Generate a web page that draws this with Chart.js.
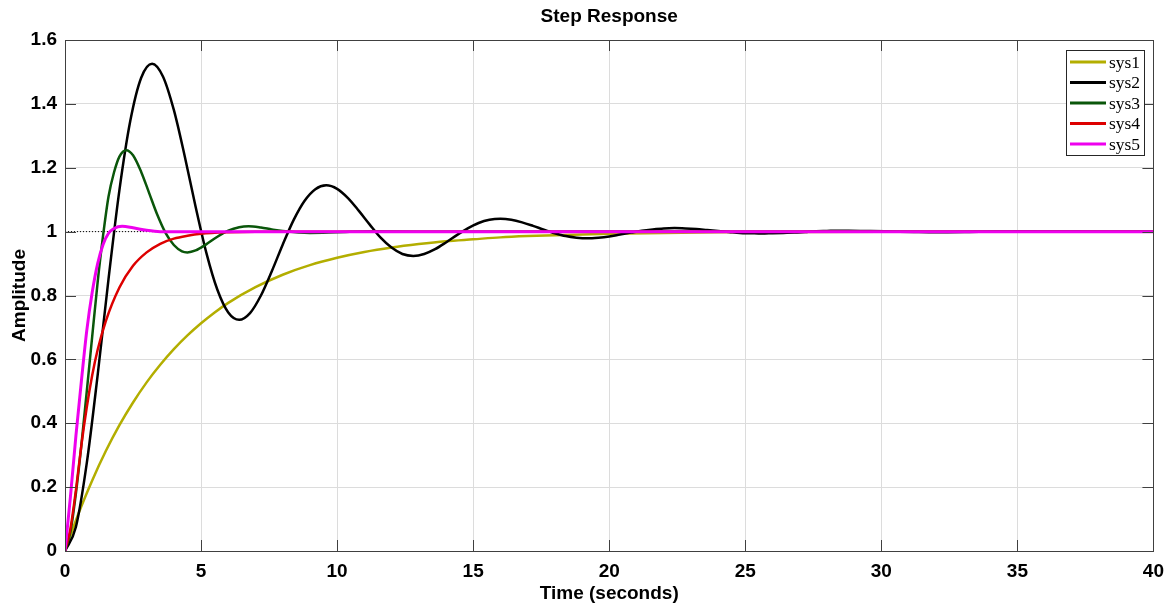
<!DOCTYPE html>
<html>
<head>
<meta charset="utf-8">
<title>Step Response</title>
<script src="https://cdn.jsdelivr.net/npm/chart.js@4.4.0/dist/chart.umd.min.js"></script>
<style>
  html, body { margin: 0; padding: 0; background: #fff; }
</style>
</head>
<body>
<canvas id="chart" width="1173" height="607"></canvas>
<script>
// step responses (time in seconds, amplitude)
var names  = ['sys1', 'sys2', 'sys3', 'sys4', 'sys5'];
var colors = ['#b3ae00', '#000000', '#0a560a', '#dd0000', '#ee00ee'];

var t1   = [0, 0.5, 1, 1.5, 2, 2.5, 3, 3.5, 4, 4.5, 5, 5.5, 6, 7, 8, 9, 10, 11, 12, 13, 14, 15, 16, 17, 18, 20, 22, 24, 27, 30, 40];
var sys1 = [0, 0.118, 0.221, 0.313, 0.394, 0.465, 0.528, 0.583, 0.632, 0.675, 0.713, 0.747, 0.777, 0.826, 0.865, 0.895, 0.918, 0.936, 0.95, 0.961, 0.97, 0.976, 0.982, 0.986, 0.989, 0.993, 0.996, 0.998, 0.999, 0.9995, 1];

var t2   = [0, 0.4, 0.8, 1.2, 1.6, 2.0, 2.4, 2.8, 3.2, 3.6, 4.0, 4.4, 4.8, 5.2, 5.6, 6.0, 6.4, 6.8, 7.2, 7.6, 8.0, 8.4, 8.8, 9.2, 9.6, 10.0, 10.4, 10.8, 11.2, 11.6, 12.0, 12.4, 12.8, 13.2, 13.6, 14.0, 14.4, 14.8, 15.2, 15.6, 16.0, 16.4, 16.8, 17.2, 17.6, 18.0, 18.4, 18.8, 19.2, 19.6, 20.0, 20.4, 20.8, 21.2, 21.6, 22.0, 22.4, 22.8, 23.2, 23.6, 24.0, 24.4, 24.8, 25.2, 25.6, 26.0, 26.4, 26.8, 27.2, 27.6, 28.0, 28.4, 28.8, 29.6, 30.4, 31.2, 32.0, 33.6, 35.2, 36.8, 38.4, 40];
var sys2 = [0, 0.075, 0.275, 0.551, 0.852, 1.13, 1.347, 1.482, 1.526, 1.486, 1.381, 1.236, 1.078, 0.932, 0.818, 0.747, 0.724, 0.745, 0.8, 0.876, 0.959, 1.036, 1.096, 1.133, 1.145, 1.134, 1.105, 1.065, 1.022, 0.981, 0.95, 0.93, 0.924, 0.93, 0.945, 0.966, 0.989, 1.01, 1.027, 1.037, 1.04, 1.037, 1.029, 1.018, 1.006, 0.995, 0.986, 0.981, 0.979, 0.981, 0.985, 0.991, 0.997, 1.003, 1.007, 1.01, 1.011, 1.01, 1.008, 1.005, 1.002, 0.999, 0.996, 0.995, 0.994, 0.995, 0.996, 0.997, 0.999, 1.001, 1.002, 1.003, 1.003, 1.002, 1.0005, 0.999, 0.998, 0.9995, 1.001, 1.0003, 0.9996, 1];

var t3   = [0, 0.2, 0.4, 0.6, 0.8, 1.0, 1.2, 1.4, 1.6, 1.8, 2.0, 2.25, 2.5, 2.8, 3.1, 3.4, 3.7, 4.0, 4.3, 4.5, 4.8, 5.2, 5.6, 6.0, 6.4, 6.75, 7.2, 7.6, 8.0, 9.0, 10.0, 11.3, 13, 40];
var sys3 = [0, 0.06, 0.18, 0.33, 0.5, 0.672, 0.842, 0.988, 1.11, 1.185, 1.235, 1.255, 1.239, 1.187, 1.119, 1.051, 0.995, 0.958, 0.938, 0.935, 0.941, 0.961, 0.984, 1.003, 1.014, 1.017, 1.013, 1.007, 1.002, 0.996, 0.998, 1.001, 1.0, 1.0];

var t4   = [0, 0.2, 0.4, 0.6, 0.8, 1.0, 1.2, 1.5, 2.0, 2.5, 3.0, 3.5, 4.0, 4.5, 5.0, 6.0, 7.0, 40];
var sys4 = [0, 0.07, 0.19, 0.33, 0.45, 0.55, 0.63, 0.72, 0.825, 0.893, 0.935, 0.962, 0.978, 0.987, 0.993, 0.998, 1.0, 1.0];

var t5   = [0, 0.2, 0.4, 0.6, 0.8, 1.0, 1.2, 1.4, 1.6, 1.8, 2.1, 2.5, 3.0, 3.5, 40];
var sys5 = [0, 0.17, 0.36, 0.53, 0.69, 0.81, 0.9, 0.96, 0.995, 1.01, 1.017, 1.012, 1.004, 1.0, 1.0];

// steady state line
var tSS = [0, 40];
var ss  = [1, 1];

var xTicks = [0, 5, 10, 15, 20, 25, 30, 35, 40];
var yTicks = [0, 0.2, 0.4, 0.6, 0.8, 1, 1.2, 1.4, 1.6];

function pts(t, v){
	return t.map(function(x, i){ return {x: x, y: v[i]}; });
}

var times  = [t1, t2, t3, t4, t5];
var values = [sys1, sys2, sys3, sys4, sys5];

var datasets = names.map(function(n, i){
	return {
		label: n,
		data: pts(times[i], values[i]),
		borderColor: colors[i],
		borderWidth: i == 4 ? 3 : 2.5,
		pointRadius: 0,
		fill: false,
		cubicInterpolationMode: 'monotone',
		order: 5 - i
	};
});
datasets.push({
	label: '',
	data: pts(tSS, ss),
	borderColor: '#000',
	borderWidth: 1,
	borderDash: [1, 2],
	pointRadius: 0,
	order: 10
});

// frame + inward ticks (matlab style box)
var boxPlugin = {
	id: 'box',
	afterDatasetsDraw: function(chart){
		var ctx = chart.ctx, a = chart.chartArea;
		var xs = chart.scales.x, ys = chart.scales.y;
		ctx.save();
		ctx.strokeStyle = '#404040';
		ctx.lineWidth = 1;
		ctx.beginPath();
		xTicks.forEach(function(v){
			var px = Math.round(xs.getPixelForValue(v)) + 0.5;
			ctx.moveTo(px, a.bottom); ctx.lineTo(px, a.bottom - 11);
			ctx.moveTo(px, a.top); ctx.lineTo(px, a.top + 11);
		});
		yTicks.forEach(function(v){
			var py = Math.round(ys.getPixelForValue(v)) + 0.5;
			ctx.moveTo(a.left, py); ctx.lineTo(a.left + 11, py);
			ctx.moveTo(a.right, py); ctx.lineTo(a.right - 11, py);
		});
		ctx.stroke();
		ctx.strokeRect(Math.round(a.left) + 0.5, Math.round(a.top) + 0.5,
			Math.round(a.right - a.left), Math.round(a.bottom - a.top));
		ctx.restore();
	}
};

// legend box inside the axes, top right
var legendPlugin = {
	id: 'boxLegend',
	afterDraw: function(chart){
		var ctx = chart.ctx;
		var x0 = 1066.5, y0 = 50.5, w = 78, h = 105;
		ctx.save();
		ctx.fillStyle = '#fff';
		ctx.fillRect(x0, y0, w, h);
		ctx.strokeStyle = '#262626';
		ctx.lineWidth = 1;
		ctx.strokeRect(x0, y0, w, h);
		ctx.font = "17.5px 'Liberation Serif', 'Times New Roman', serif";
		ctx.textBaseline = 'middle';
		ctx.fillStyle = '#000';
		names.forEach(function(n, i){
			var y = 62 + i * 20.5;
			ctx.strokeStyle = colors[i];
			ctx.lineWidth = 3;
			ctx.beginPath();
			ctx.moveTo(1070, y); ctx.lineTo(1106, y);
			ctx.stroke();
			ctx.fillText(n, 1109, y + 1);
		});
		ctx.restore();
	}
};

var font = "'Liberation Sans', Arial, Helvetica, sans-serif";

var config = {
	type: 'line',
	data: { datasets: datasets },
	options: {
		responsive: false,
		animation: false,
		layout: { padding: { left: 0, right: 19, top: 0, bottom: 0 } },
		plugins: {
			legend: { display: false },
			tooltip: { enabled: false },
			title: {
				display: true,
				fullSize: false, // centre over the plot area, like matlab
				text: 'Step Response',
				color: '#000',
				font: { family: font, size: 19, weight: 'bold' },
				padding: { top: 5, bottom: 12.2 }
			}
		},
		scales: {
			x: {
				type: 'linear',
				min: 0, max: 40,
				afterFit: function(s){ s.height = 56; },
				afterBuildTicks: function(s){ s.ticks = xTicks.map(function(v){ return {value: v}; }); },
				grid: { color: '#dcdcdc', drawTicks: false },
				border: { display: false },
				ticks: {
					color: '#000', padding: 9, maxRotation: 0,
					font: { family: font, size: 19, weight: 'bold' }
				},
				title: {
					display: true, text: 'Time (seconds)', color: '#000',
					font: { family: font, size: 19, weight: 'bold' },
					padding: { top: 0, bottom: 2 }
				}
			},
			y: {
				min: 0, max: 1.6,
				afterFit: function(s){ s.width = 65; },
				afterBuildTicks: function(s){ s.ticks = yTicks.map(function(v){ return {value: v}; }); },
				grid: { color: '#dcdcdc', drawTicks: false },
				border: { display: false },
				ticks: {
					color: '#000', padding: 8,
					font: { family: font, size: 19, weight: 'bold' },
					callback: function(v){ return String(+v.toFixed(1)); }
				},
				title: {
					display: true, text: 'Amplitude', color: '#000',
					font: { family: font, size: 19, weight: 'bold' },
					padding: { top: 8.6, bottom: 0 }
				}
			}
		}
	},
	plugins: [boxPlugin, legendPlugin]
};

var canvas = document.getElementById('chart').getContext('2d');
window.stepChart = new Chart(canvas, config);
</script>
</body>
</html>
